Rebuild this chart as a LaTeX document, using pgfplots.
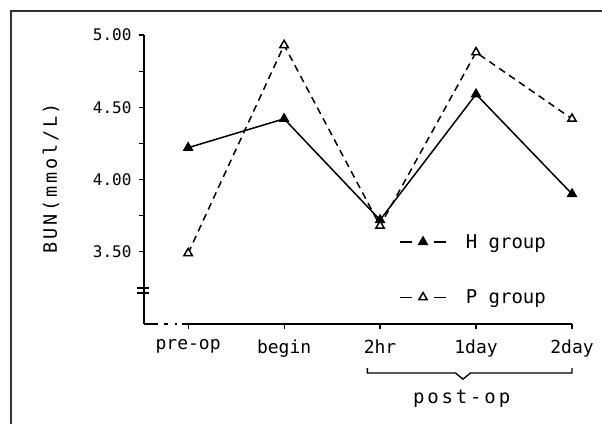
\documentclass[border=0pt]{standalone}
\usepackage{fontspec}
\setmainfont{DejaVu Sans Mono}
\newfontfamily\spacedfont[LetterSpace=15]{DejaVu Sans Mono}
\usepackage{pgfplots}
\pgfplotsset{compat=1.18}

\pgfplotstableread{
x H P
0 4.22 3.49
1 4.42 4.93
2 3.72 3.68
3 4.59 4.88
4 3.90 4.42
}\bundata

\begin{document}
\begin{tikzpicture}
\useasboundingbox (0,0) rectangle (602pt,423pt);
\fill[white] (0,0) rectangle (602pt,423pt);
\begin{axis}[
  at={(144pt,99pt)}, anchor=south west,
  scale only axis, width=428pt, height=289pt,
  xmin=-0.46, xmax=4, ymin=3, ymax=5,
  clip=false,
  axis lines=left,
  x axis line style={draw=none},
  y axis line style={-, line width=1.4pt},
  tick align=outside,
  major tick length=5pt, minor tick length=5pt,
  tick style={black, line width=1.2pt},
  xtick={0,1,2,3,4},
  xticklabels={pre-op,begin,2hr,1day,2day},
  ytick={3.5,4,4.5,5},
  minor ytick={3.75,4.25,4.75},
  /pgf/number format/assume math mode=true,
  yticklabel={\pgfmathprintnumber[fixed,fixed zerofill,precision=2]{\tick}},
  yticklabel style={font=\fontsize{16}{18}\selectfont, xshift=-4pt},
  xticklabel style={font=\fontsize{18}{20}\selectfont, yshift=-7pt},
  ylabel={BUN(mmol/L)},
  ylabel style={at={(axis description cs:-0.217,0.505)}, anchor=center,
    font=\fontsize{18.5}{20}\spacedfont},
  legend style={at={(0.596,0.325)}, anchor=north west, draw=none, fill=none,
    font=\fontsize{19}{20}\selectfont, row sep=36pt, inner xsep=0pt,
    cells={anchor=west}, column sep=0pt},
  legend cell align=left,
]
\addplot[black, line width=1.5pt, mark=triangle*, mark size=4.8pt,
  legend image code/.code={
    \draw[solid,line width=1.5pt] (0pt,0pt)--(12pt,0pt) (34pt,0pt)--(46pt,0pt);
    \draw[solid] plot coordinates {(23pt,0pt)};
    \path (63pt,0pt);}]
  table[x=x,y=H]{\bundata};
\addlegendentry{H group}
\addplot[black, line width=1.5pt, dash pattern=on 7pt off 5pt,
  mark=triangle*, mark size=4.8pt, mark options={solid, fill=white},
  legend image code/.code={
    \draw[solid,line width=1.5pt] (0pt,0pt)--(12pt,0pt) (34pt,0pt)--(46pt,0pt);
    \draw[solid] plot coordinates {(23pt,0pt)};
    \path (63pt,0pt);}]
  table[x=x,y=P]{\bundata};
\addlegendentry{P group}
% x axis line: broken start then solid
\draw[line width=1.4pt, dash pattern=on 14pt off 6pt on 4pt off 7pt on 2pt off 5pt]
  (axis cs:-0.46,3) -- (axis cs:0,3);
\draw[line width=1.4pt] (axis cs:-0.05,3) -- (axis cs:4,3);
% axis break marks
\draw[line width=1.4pt] ([xshift=-7pt]axis cs:-0.46,3.25) -- ([xshift=5pt]axis cs:-0.46,3.25);
\draw[line width=1.4pt] ([xshift=-7pt]axis cs:-0.46,3.215) -- ([xshift=5pt]axis cs:-0.46,3.215);
% post-op bracket
\draw[line width=1.4pt] (axis cs:1.867,2.695) -- (axis cs:1.867,2.661) -- (axis cs:2.786,2.661)
  -- (axis cs:2.864,2.618) -- (axis cs:2.942,2.661) -- (axis cs:4,2.661) -- (axis cs:4,2.695);
\node[font=\fontsize{19}{20}\spacedfont] at (axis cs:2.85,2.485) {post-op};
\end{axis}
\draw[line width=1.4pt, black!80] (11pt,-5pt) -- (11pt,412pt) -- (610pt,412pt);
\end{tikzpicture}
\end{document}
